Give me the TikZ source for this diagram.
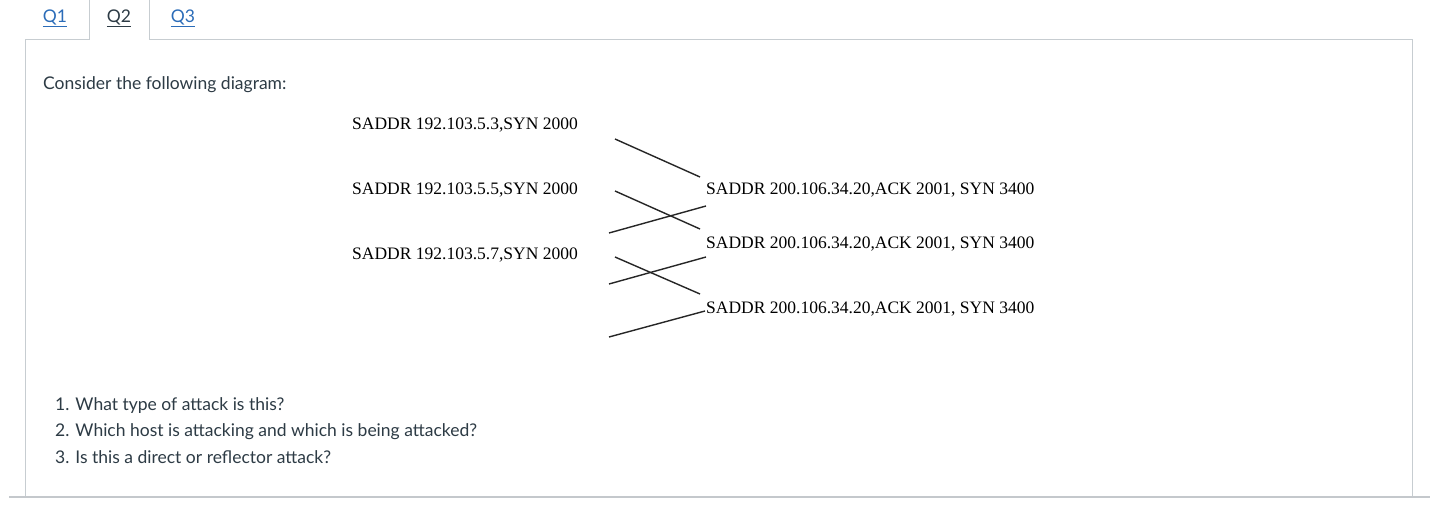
\documentclass[tikz,border=0pt]{standalone}
\usepackage{fontspec}
\setmainfont{Lato}
\newfontfamily\tnr{Liberation Serif}
\definecolor{canvastext}{HTML}{2D3B45}
\definecolor{linkblue}{HTML}{2B6CB8}
\definecolor{panelgray}{HTML}{C7CDD1}
\definecolor{rulegray}{HTML}{C4C8CC}
\tikzset{
  ui/.style={anchor=base west, inner sep=0pt, font=\fontsize{17.5}{21}\selectfont, text=canvastext},
  tab/.style={anchor=base, inner sep=0pt, font=\fontsize{17.5}{21}\selectfont},
  pkt/.style={anchor=base west, inner sep=0pt, font=\tnr\fontsize{17.5}{21}\selectfont, text=black},
  wire/.style={line width=1.4pt, black!85},
  frame/.style={line width=1pt, panelgray}
}
\begin{document}
\begin{tikzpicture}[x=1pt,y=-1pt]
\useasboundingbox (0,0) rectangle (1430,505);
\fill[white] (0,0) rectangle (1430,505);
% tabs and panel
\draw[frame] (25,496) -- (25,39.5) -- (89,39.5) -- (89,0);
\draw[frame] (149,0) -- (149,39.5) -- (1412,39.5) -- (1412,496);
\draw[rulegray, line width=2pt] (9,497) -- (1430,497);
\node[tab, text=linkblue] (q1) at (55,22.5) {\underline{Q1}};
\node[tab, text=canvastext] (q2) at (119,22.5) {\underline{Q2}};
\node[tab, text=linkblue] (q3) at (183,22.5) {\underline{Q3}};
% heading
\node[ui] (intro) at (43,90) {Consider the following diagram:};
% packet labels
\node[pkt] (l1) at (352,130) {SADDR 192.103.5.3,SYN 2000};
\node[pkt] (l2) at (352,195) {SADDR 192.103.5.5,SYN 2000};
\node[pkt] (l3) at (352,260) {SADDR 192.103.5.7,SYN 2000};
\node[pkt] (r1) at (706,195) {SADDR 200.106.34.20,ACK 2001, SYN 3400};
\node[pkt] (r2) at (706,248) {SADDR 200.106.34.20,ACK 2001, SYN 3400};
\node[pkt] (r3) at (706,313) {SADDR 200.106.34.20,ACK 2001, SYN 3400};
% line endpoints
\coordinate (a1) at (615,139);
\coordinate (b1) at (700,177);
\coordinate (a2) at (615,191);
\coordinate (b2) at (700,229);
\coordinate (a3) at (609,233);
\coordinate (b3) at (706,206);
\coordinate (a4) at (615,257);
\coordinate (b4) at (700,294);
\coordinate (a5) at (609,284);
\coordinate (b5) at (706,257);
\coordinate (a6) at (609,337);
\coordinate (b6) at (705,311);
\draw[wire] (a1) -- (b1);
\draw[wire] (a2) -- (b2);
\draw[wire] (a3) -- (b3);
\draw[wire] (a4) -- (b4);
\draw[wire] (a5) -- (b5);
\draw[wire] (a6) -- (b6);
% questions
\node[ui] (qa) at (55,410) {1. What type of attack is this?};
\node[ui] (qb) at (55,436) {2. Which host is attacking and which is being attacked?};
\node[ui] (qc) at (55,463) {3. Is this a direct or reflector attack?};
\end{tikzpicture}
\end{document}
